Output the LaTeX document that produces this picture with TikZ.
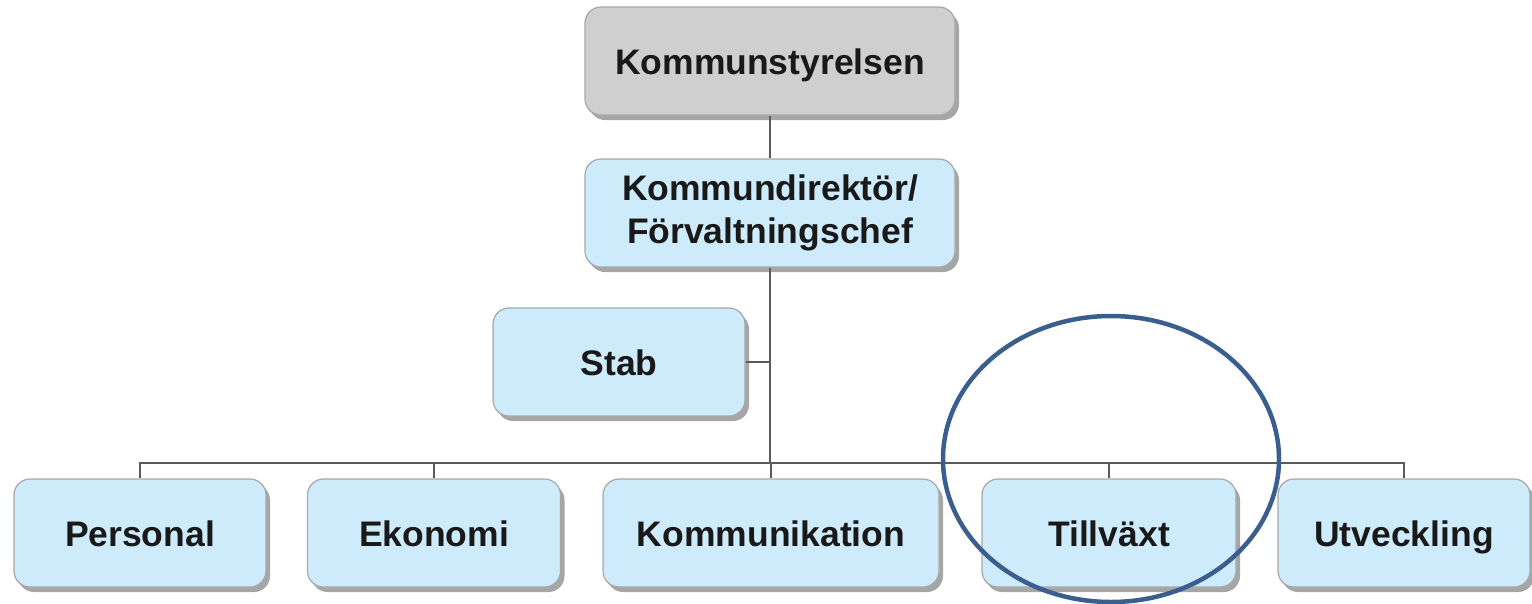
\documentclass[tikz,border=0pt]{standalone}
\usepackage{fontspec}
\setmainfont{Liberation Sans}
\usetikzlibrary{shadows,shapes.geometric}
\definecolor{boxblue}{HTML}{CDEBFB}
\definecolor{boxgrey}{HTML}{CFCFCF}
\definecolor{boxedge}{HTML}{A8A8A8}
\definecolor{linegrey}{HTML}{5A5A5A}
\definecolor{ringblue}{HTML}{3A5F8F}
\tikzset{
  orgbox/.style={draw=boxedge, line width=1.2pt, fill=boxblue, rounded corners=16pt,
    minimum height=108pt, align=center, text=black!90,
    font=\fontsize{35.5}{43}\selectfont\bfseries,
    drop shadow={shadow xshift=4pt, shadow yshift=-5pt, fill=black, opacity=0.35}},
  onebox/.style={orgbox, text height=26pt, text depth=0pt},
  topbox/.style={onebox, fill=boxgrey},
  link/.style={draw=linegrey, line width=2pt},
  ring/.style={draw=ringblue, line width=4.5pt}
}
\begin{document}
\begin{tikzpicture}[x=1pt,y=-1pt]
\useasboundingbox (0,0) rectangle (1532,603);
\node[topbox, minimum width=370pt] (ks) at (770,61) {Kommunstyrelsen};
\node[orgbox, minimum width=370pt] (kd) at (770,213) {Kommundirektör/\\Förvaltningschef};
\node[onebox, minimum width=252pt] (stab) at (619,362) {Stab};
\node[onebox, minimum width=252pt] (pers) at (140,533) {Personal};
\node[onebox, minimum width=253pt] (ekon) at (434,533) {Ekonomi};
\node[onebox, minimum width=336pt] (komm) at (771,533) {Kommunikation};
\node[onebox, minimum width=254pt] (till) at (1109,533) {Tillväxt};
\node[onebox, minimum width=252pt] (utv) at (1404,533) {Utveckling};
\coordinate (bus) at (770,463);
\draw[link] (ks.south) -- (kd.north);
\draw[link] (kd.south) -- (bus);
\draw[link] (stab.east) -- (kd.south |- stab.east);
\draw[link] (pers.north) -- (pers.north |- bus) -- (utv.north |- bus) -- (utv.north);
\draw[link] (ekon.north) -- (ekon.north |- bus);
\draw[link] (komm.north) -- (komm.north |- bus);
\draw[link] (till.north) -- (till.north |- bus);
\node[ring, ellipse, minimum width=336pt, minimum height=286pt, inner sep=0pt] (circ) at (1111,459) {};
\end{tikzpicture}
\end{document}
